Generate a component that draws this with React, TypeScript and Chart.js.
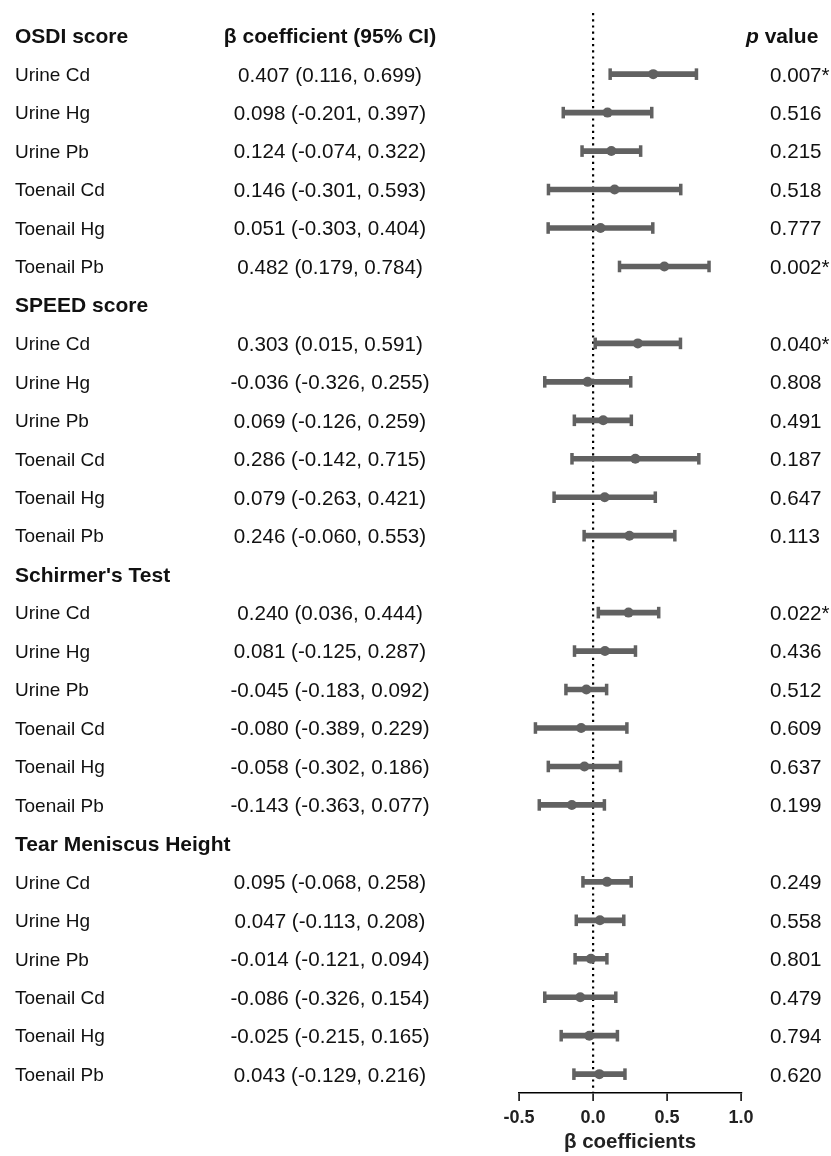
import React, { useEffect, useRef } from "react";
import { Chart, registerables } from "chart.js";

Chart.register(...registerables);

const groups = ["OSDI score", "SPEED score", "Schirmer's Test", "Tear Meniscus Height"];
const exposures = ["Urine Cd", "Urine Hg", "Urine Pb", "Toenail Cd", "Toenail Hg", "Toenail Pb"];

const betaOSDI = [0.407, 0.098, 0.124, 0.146, 0.051, 0.482];
const lowOSDI = [0.116, -0.201, -0.074, -0.301, -0.303, 0.179];
const highOSDI = [0.699, 0.397, 0.322, 0.593, 0.404, 0.784];
const pOSDI = ["0.007*", "0.516", "0.215", "0.518", "0.777", "0.002*"];

const betaSPEED = [0.303, -0.036, 0.069, 0.286, 0.079, 0.246];
const lowSPEED = [0.015, -0.326, -0.126, -0.142, -0.263, -0.06];
const highSPEED = [0.591, 0.255, 0.259, 0.715, 0.421, 0.553];
const pSPEED = ["0.040*", "0.808", "0.491", "0.187", "0.647", "0.113"];

const betaSchirmer = [0.24, 0.081, -0.045, -0.08, -0.058, -0.143];
const lowSchirmer = [0.036, -0.125, -0.183, -0.389, -0.302, -0.363];
const highSchirmer = [0.444, 0.287, 0.092, 0.229, 0.186, 0.077];
const pSchirmer = ["0.022*", "0.436", "0.512", "0.609", "0.637", "0.199"];

const betaTMH = [0.095, 0.047, -0.014, -0.086, -0.025, 0.043];
const lowTMH = [-0.068, -0.113, -0.121, -0.326, -0.215, -0.129];
const highTMH = [0.258, 0.208, 0.094, 0.154, 0.165, 0.216];
const pTMH = ["0.249", "0.558", "0.801", "0.479", "0.794", "0.620"];

const xTicks = [-0.5, 0, 0.5, 1.0];

const betas = [betaOSDI, betaSPEED, betaSchirmer, betaTMH];
const lows = [lowOSDI, lowSPEED, lowSchirmer, lowTMH];
const highs = [highOSDI, highSPEED, highSchirmer, highTMH];
const pvals = [pOSDI, pSPEED, pSchirmer, pTMH];

type Row = { header: boolean; label: string; beta?: number; lo?: number; hi?: number; p?: string };
const rows: Row[] = [];
groups.forEach((g, gi) => {
  rows.push({ header: true, label: g });
  exposures.forEach((e, ei) => {
    rows.push({ header: false, label: e, beta: betas[gi][ei], lo: lows[gi][ei], hi: highs[gi][ei], p: pvals[gi][ei] });
  });
});

const GRAY = "#616161";
const TXT = "#111111";
const FONT = "'Liberation Sans', Arial, Helvetica, sans-serif";

const textPlugin = {
  id: "forestText",
  afterDraw(chart: any) {
    const { ctx } = chart;
    const y = chart.scales.y;
    ctx.save();
    ctx.fillStyle = TXT;
    rows.forEach((r, i) => {
      const py = y.getPixelForValue(i);
      if (r.header) {
        ctx.font = `bold 21px ${FONT}`;
        ctx.textAlign = "left";
        ctx.textBaseline = "alphabetic";
        ctx.fillText(r.label, 15, py + 21 * 0.358);
        if (i === 0) {
          ctx.textAlign = "center";
          ctx.fillText("β coefficient (95% CI)", 330, py + 21 * 0.358);
          ctx.textAlign = "left";
          ctx.font = `italic bold 21px ${FONT}`;
          const pw = ctx.measureText("p").width;
          ctx.fillText("p", 746, py + 21 * 0.358);
          ctx.font = `bold 21px ${FONT}`;
          ctx.fillText(" value", 746 + pw, py + 21 * 0.358);
        }
      } else {
        ctx.font = `19px ${FONT}`;
        ctx.textAlign = "left";
        ctx.textBaseline = "alphabetic";
        ctx.fillText(r.label, 15, py + 19 * 0.358);
        ctx.font = `20.6px ${FONT}`;
        ctx.textAlign = "center";
        const ci = `${(r.beta as number).toFixed(3)} (${(r.lo as number).toFixed(3)}, ${(r.hi as number).toFixed(3)})`;
        ctx.fillText(ci, 330, py + 20.6 * 0.358);
        ctx.textAlign = "left";
        ctx.fillText(r.p as string, 770, py + 20.6 * 0.358);
      }
    });
    ctx.restore();
  },
};

export default function App() {
  const ref = useRef<HTMLCanvasElement | null>(null);
  useEffect(() => {
    if (!ref.current) return;
    const barData: any[] = [];
    const pointData: any[] = [];
    const capData: any[] = [];
    rows.forEach((r, i) => {
      if (r.header) return;
      barData.push({ y: i, x: [r.lo, r.hi] });
      pointData.push({ x: r.beta, y: i });
      capData.push({ x: r.lo, y: i });
      capData.push({ x: r.hi, y: i });
    });
    const chart = new Chart(ref.current, {
      type: "scatter",
      data: {
        datasets: [
          {
            type: "bar",
            indexAxis: "y",
            data: barData,
            backgroundColor: GRAY,
            borderWidth: 0,
            barThickness: 5,
            grouped: false,
            order: 3,
          } as any,
          {
            type: "scatter",
            data: capData,
            pointStyle: "line",
            rotation: 90,
            radius: 5.8,
            borderWidth: 3.5,
            borderColor: GRAY,
            backgroundColor: GRAY,
            order: 2,
          } as any,
          {
            type: "scatter",
            data: pointData,
            pointStyle: "circle",
            radius: 5,
            borderWidth: 0,
            backgroundColor: GRAY,
            borderColor: GRAY,
            order: 1,
          } as any,
        ],
      },
      options: {
        responsive: false,
        animation: false,
        layout: { padding: { left: 519, right: 90, top: 13, bottom: 0 } },
        plugins: { legend: { display: false }, tooltip: { enabled: false } },
        scales: {
          x: {
            type: "linear",
            min: -0.5,
            max: 1.0,
            offset: false,
            afterBuildTicks: (scale: any) => {
              scale.ticks = xTicks.map((v) => ({ value: v }));
            },
            afterFit: (scale: any) => {
              scale.height = 63;
            },
            ticks: {
              callback: (v: any) => Number(v).toFixed(1),
              font: { family: FONT, size: 18, weight: "bold" },
              color: "#222",
              padding: 6,
            },
            grid: {
              color: (c: any) => (c.tick && c.tick.value === 0 ? "#000" : "rgba(0,0,0,0)"),
              lineWidth: 2.2,
              tickColor: "#000",
              tickLength: 8,
              tickWidth: 1.5,
              drawOnChartArea: true,
            } as any,
            border: { display: true, color: "#000", width: 1.5, dash: [2.2, 4] },
            title: {
              display: true,
              text: "β coefficients",
              font: { family: FONT, size: 20.5, weight: "bold" },
              color: "#222",
              padding: { top: 0, bottom: 1 },
            },
          },
          y: {
            type: "linear",
            min: -0.59,
            max: 27.49,
            reverse: true,
            offset: false,
            display: false,
          },
        },
      },
      plugins: [textPlugin],
    });
    return () => chart.destroy();
  }, []);
  return (
    <div style={{ position: "absolute", left: 0, top: 0, width: 831, height: 1156, background: "#fff" }}>
      <canvas ref={ref} width={831} height={1156} />
    </div>
  );
}
